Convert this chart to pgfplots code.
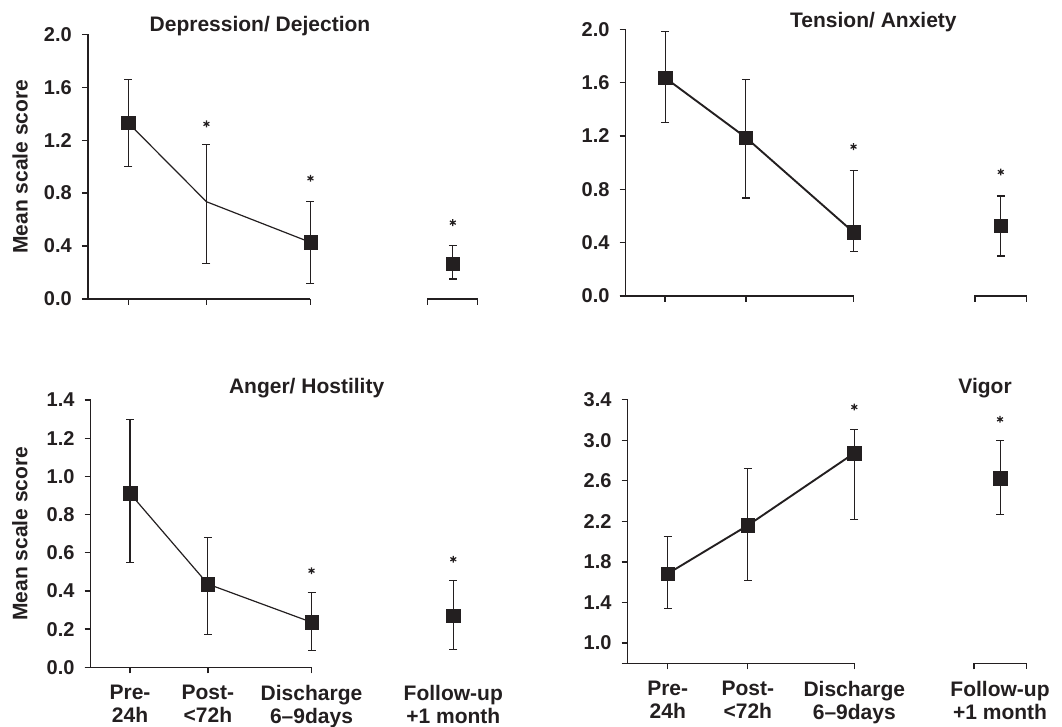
\documentclass[border=0pt]{standalone}
\usepackage{pgfplots}
\pgfplotsset{compat=1.18}
\usepackage{fontspec}
\setmainfont{Liberation Sans}[UprightFont={* Bold}, BoldFont={* Bold}]
\definecolor{ink}{HTML}{231F20}
\newcommand\tickf{\fontsize{20}{22}\selectfont\bfseries}
\newcommand\labf{\fontsize{21}{23}\selectfont\bfseries}
\newcommand\titf{\fontsize{21}{23}\selectfont\bfseries}
\pgfplotsset{
  every axis title/.style={anchor=base, font=\titf, text=ink, inner sep=0pt},
  every axis y label/.style={rotate=90, anchor=center, font=\labf, text=ink},
  panel/.style={
    xmax=5.6, clip=false, anchor=south west,
    axis y line*=left, axis x line*=bottom,
    x axis line style={draw=none},
    y axis line style={line width=1.3pt, ink},
    tick align=outside, major tick length=6pt,
    tick style={line width=1.3pt, ink},
    xtick={1,2,3.33}, xticklabels={},
    yticklabel style={font=\tickf, text=ink, inner sep=0pt, xshift=-10pt},
    xticklabel style={font=\labf, text=ink, align=center, inner sep=0pt, yshift=-12pt},
  },
  dline/.style={ink, line width=#1, mark=none,
    error bars/.cd, y dir=both, y explicit,
    error bar style={line width=1.05pt, ink},
    error mark options={rotate=90, line width=1.05pt, ink, mark size=4pt}},
  dline/.default=1.2pt,
  dmark/.style={only marks, mark=square*, mark size=6.7pt,
    mark options={fill=ink, draw=ink, line width=0.4pt}},
  dfol/.style={only marks, mark=square*, mark size=6.7pt,
    mark options={fill=ink, draw=ink, line width=0.4pt},
    error bars/.cd, y dir=both, y explicit,
    error bar style={line width=1.05pt, ink},
    error mark options={rotate=90, line width=1.05pt, ink, mark size=4pt}},
  dstar/.style={only marks, mark=asterisk, mark size=3.4pt,
    mark options={ink, line width=1.2pt}},
}
\begin{document}
\begin{tikzpicture}
% ---------- Depression / Dejection ----------
\begin{axis}[panel, at={(88pt,428pt)}, x=78.2pt, y=132.35pt,
  xmin=0.485, ymin=0, ymax=2,
  ytick={0,0.4,0.8,1.2,1.6,2.0}, yticklabels={0.0,0.4,0.8,1.2,1.6,2.0},
  title={Depression/ Dejection}, title style={at={(axis description cs:0.43,1)}, yshift=2.6pt},
  ylabel={Mean scale score}, ylabel style={at={(axis description cs:-0.17,0.5)}}]
  \draw[ink, line width=1.3pt] ([xshift=-6pt]axis cs:0.485,0) -- (axis cs:3.33,0);
  \draw[ink, line width=1.3pt] ([yshift=-6pt]axis cs:4.83,0) -- (axis cs:4.83,0) -- (axis cs:5.47,0) -- ([yshift=-6pt]axis cs:5.47,0);
  \addplot[dline] coordinates {(1,1.33) += (0,0.33) -= (0,0.33)
    (2,0.735) += (0,0.435) -= (0,0.465)
    (3.33,0.428) += (0,0.307) -= (0,0.312)};
  \addplot[dmark] coordinates {(1,1.33) (3.33,0.428)};
  \addplot[dfol] coordinates {(5.15,0.265) += (0,0.138) -= (0,0.114)};
  \addplot[dstar] coordinates {(2,1.323) (3.33,0.912) (5.15,0.577)};
\end{axis}
% ---------- Tension / Anxiety ----------
\begin{axis}[panel, at={(625.7pt,431pt)}, x=80.9pt, y=133.35pt,
  xmin=0.514, ymin=0, ymax=2,
  ytick={0,0.4,0.8,1.2,1.6,2.0}, yticklabels={0.0,0.4,0.8,1.2,1.6,2.0},
  title={Tension/ Anxiety}, title style={at={(axis description cs:0.602,1)}, yshift=1.6pt}]
  \draw[ink, line width=1.3pt] ([xshift=-6pt]axis cs:0.514,0) -- (axis cs:3.33,0);
  \draw[ink, line width=1.3pt] ([yshift=-6pt]axis cs:4.83,0) -- (axis cs:4.83,0) -- (axis cs:5.47,0) -- ([yshift=-6pt]axis cs:5.47,0);
  \addplot[dline=1.9pt] coordinates {(1,1.637) += (0,0.343) -= (0,0.337)
    (2,1.188) += (0,0.432) -= (0,0.453)
    (3.33,0.478) += (0,0.462) -= (0,0.146)};
  \addplot[dmark] coordinates {(1,1.637) (2,1.188) (3.33,0.478)};
  \addplot[dfol] coordinates {(5.15,0.527) += (0,0.223) -= (0,0.227)};
  \addplot[dstar] coordinates {(3.33,1.12) (5.15,0.93)};
\end{axis}
% ---------- Anger / Hostility ----------
\begin{axis}[panel, at={(90.7pt,59.7pt)}, x=77.9pt, y=190.9pt,
  xmin=0.4955, ymin=0, ymax=1.4,
  ytick={0,0.2,0.4,0.6,0.8,1.0,1.2,1.4}, yticklabels={0.0,0.2,0.4,0.6,0.8,1.0,1.2,1.4},
  xticklabels={{Pre-\\24h},{Post-\\<72h},{Discharge\\6--9days}},
  extra x ticks={5.15}, extra x tick labels={{Follow-up\\+1 month}},
  extra x tick style={tick style={draw=none}},
  title={Anger/ Hostility}, title style={at={(axis description cs:0.543,1)}, yshift=6.7pt},
  ylabel={Mean scale score}, ylabel style={at={(axis description cs:-0.178,0.5)}}]
  \draw[ink, line width=1.3pt] ([xshift=-6pt]axis cs:0.4955,0) -- (axis cs:3.33,0);
  \addplot[dline] coordinates {(1,0.911) += (0,0.388) -= (0,0.363)
    (2,0.436) += (0,0.243) -= (0,0.262)
    (3.33,0.236) += (0,0.155) -= (0,0.149)};
  \addplot[dmark] coordinates {(1,0.911) (2,0.436) (3.33,0.236)};
  \addplot[dfol] coordinates {(5.15,0.269) += (0,0.185) -= (0,0.178)};
  \addplot[dstar] coordinates {(3.33,0.506) (5.15,0.566)};
\end{axis}
% ---------- Vigor ----------
\begin{axis}[panel, at={(627.7pt,63.7pt)}, x=80.07pt, y=101.4pt,
  xmin=0.5, ymin=0.8, ymax=3.4,
  ytick={1.0,1.4,1.8,2.2,2.6,3.0,3.4}, yticklabels={1.0,1.4,1.8,2.2,2.6,3.0,3.4},
  xticklabels={{Pre-\\24h},{Post-\\<72h},{Discharge\\6--9days}},
  extra x ticks={5.15}, extra x tick labels={{Follow-up\\+1 month}},
  extra x tick style={tick style={draw=none}},
  title={Vigor}, title style={at={(axis description cs:0.875,1)}, yshift=6pt}]
  \draw[ink, line width=1.3pt] ([xshift=-6pt]axis cs:0.5,0.8) -- (axis cs:3.33,0.8);
  \draw[ink, line width=1.3pt] ([yshift=-6pt]axis cs:4.823,0.8) -- (axis cs:4.823,0.8) -- (axis cs:5.477,0.8) -- ([yshift=-6pt]axis cs:5.477,0.8);
  \addplot[dline=1.9pt] coordinates {(1,1.684) += (0,0.371) -= (0,0.342)
    (2,2.16) += (0,0.565) -= (0,0.54)
    (3.33,2.873) += (0,0.237) -= (0,0.656)};
  \addplot[dmark] coordinates {(1,1.684) (2,2.16) (3.33,2.873)};
  \addplot[dfol] coordinates {(5.15,2.627) += (0,0.373) -= (0,0.361)};
  \addplot[dstar] coordinates {(3.33,3.327) (5.15,3.206)};
\end{axis}
\pgfresetboundingbox
\path (0pt,0pt) rectangle (1062pt,727pt);
\end{tikzpicture}
\end{document}
